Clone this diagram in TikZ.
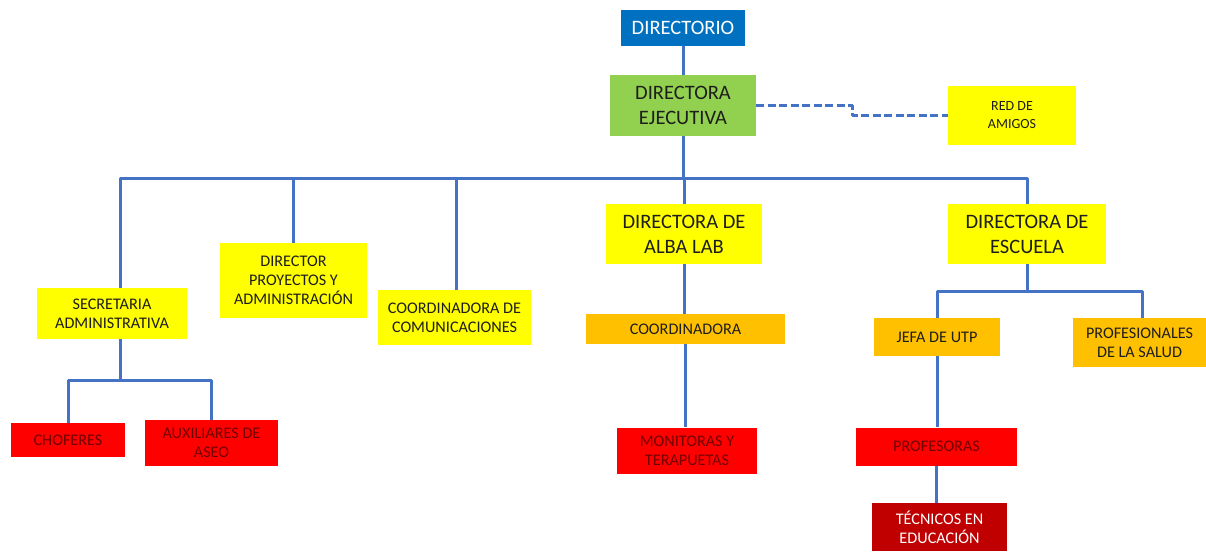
\documentclass[tikz,border=0pt]{standalone}
\usepackage{fontspec}
\setmainfont{Carlito}
\definecolor{cblue}{HTML}{0070C0}
\definecolor{cgreen}{HTML}{92D050}
\definecolor{cyellow}{HTML}{FFFF00}
\definecolor{corange}{HTML}{FFC000}
\definecolor{cred}{HTML}{FF0000}
\definecolor{cdred}{HTML}{C00000}
\definecolor{clink}{HTML}{4472C4}
\definecolor{ctext}{HTML}{1E1E1E}
\definecolor{cmaroon}{HTML}{700000}
\begin{document}
\begin{tikzpicture}[x=1pt,y=-1pt,line join=round,
  box/.style={inner sep=0pt,align=center,text=ctext},
  sz/.style 2 args={minimum width=#1pt,minimum height=#2pt},
  big/.style={font=\fontsize{20.5}{25}\selectfont},
  med/.style={font=\fontsize{16.2}{19}\selectfont},
  small/.style={font=\fontsize{14}{18}\selectfont},
  link/.style={draw=clink,line width=3pt},
  dlink/.style={link,dashed,dash pattern=on 8pt off 3.5pt}]
\useasboundingbox (0,0) rectangle (1206,551);
% top
\node[box,big,fill=cblue,text=white,sz={124}{36}] (dirio) at (683,28) {DIRECTORIO};
\node[box,big,fill=cgreen,sz={146}{61}] (ejec) at (683,105.5) {DIRECTORA\\EJECUTIVA};
\node[box,small,fill=cyellow,sz={128}{59}] (red) at (1012,115.5) {RED DE\\AMIGOS};
% second level
\node[box,med,fill=cyellow,sz={150}{51}] (secr) at (112,313.5) {SECRETARIA\\ADMINISTRATIVA};
\node[box,med,fill=cyellow,sz={147}{75}] (proy) at (293.5,280.5) {DIRECTOR\\PROYECTOS Y\\ADMINISTRACIÓN};
\node[box,med,fill=cyellow,sz={153}{55}] (comu) at (454.5,317.5) {COORDINADORA DE\\COMUNICACIONES};
\node[box,big,fill=cyellow,sz={156}{60}] (alba) at (684,234) {DIRECTORA DE\\ALBA LAB};
\node[box,big,fill=cyellow,sz={158}{60}] (escu) at (1027,234) {DIRECTORA DE\\ESCUELA};
% lower levels
\node[box,med,fill=corange,sz={199}{30}] (coord) at (685.5,329) {COORDINADORA};
\node[box,med,fill=corange,sz={126}{38}] (jefa) at (937,337) {JEFA DE UTP};
\node[box,med,fill=corange,sz={133}{49}] (salud) at (1139.5,342.5) {PROFESIONALES\\DE LA SALUD};
\node[box,med,fill=cred,text=cmaroon,sz={114}{34}] (chof) at (68,440) {CHOFERES};
\node[box,med,fill=cred,text=cmaroon,sz={133}{46}] (aux) at (211.5,443) {AUXILIARES DE\\ASEO};
\node[box,med,fill=cred,text=cmaroon,sz={140}{46}] (moni) at (687,450.5) {MONITORAS Y\\TERAPUETAS};
\node[box,med,fill=cred,text=cmaroon,sz={161}{38}] (prof) at (936.5,446.5) {PROFESORAS};
\node[box,med,fill=cdred,text=white,sz={135}{48}] (tecn) at (939.5,527) {TÉCNICOS EN\\EDUCACIÓN};
% connectors
\coordinate (bus) at (683,178);
\coordinate (sbus) at (120,380);
\coordinate (ebus) at (1027,291);
\draw[link] (dirio) -- (ejec);
\draw[link] (ejec) -- (bus);
\draw[link] ([xshift=8pt]secr.north) |- (bus) -| (escu.north);
\draw[link] (proy.north) -- (proy.north |- bus);
\draw[link] ([xshift=1.5pt]comu.north) -- ([xshift=1.5pt]comu.north |- bus);
\draw[link] (alba.north) -- (alba.north |- bus);
\draw[dlink] (ejec.east) -- ++(96,0) |- (red.west);
\draw[link] ([xshift=8pt]secr.south) -- (sbus);
\draw[link] (chof.north) |- (sbus) -| (aux.north);
\draw[link] (alba.south) -- (alba.south |- coord.north);
\draw[link] (coord.south) -- (coord.south |- moni.north);
\draw[link] (escu.south) -- (ebus);
\draw[link] (jefa.north) |- (ebus) -| ([xshift=2.5pt]salud.north);
\draw[link] (jefa.south) -- (jefa.south |- prof.north);
\draw[link] (prof.south) -- (prof.south |- tecn.north);
\end{tikzpicture}
\end{document}
